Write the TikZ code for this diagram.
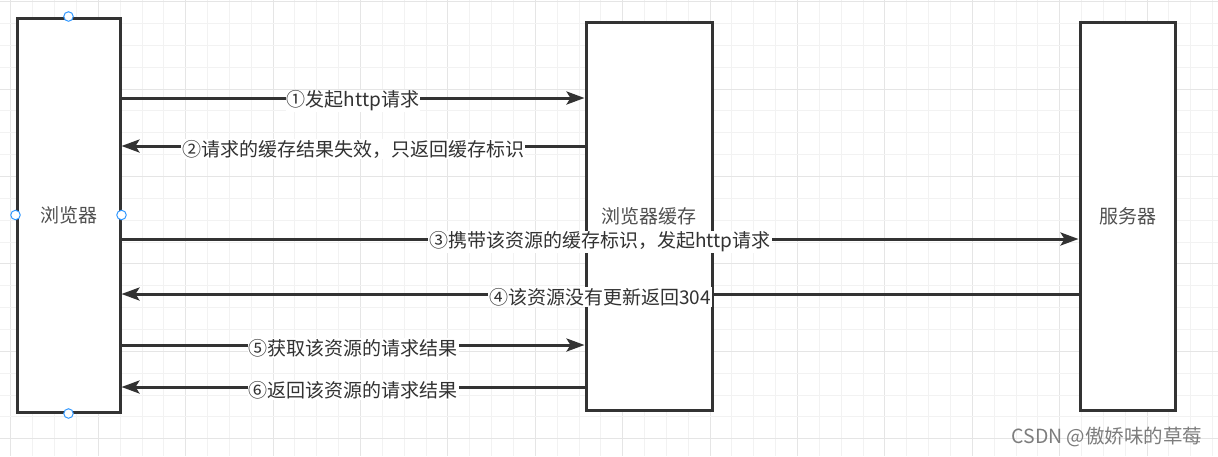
\documentclass[tikz,border=0pt]{standalone}
\usepackage{fontspec}
\setmainfont{Noto Sans CJK SC}
\usetikzlibrary{arrows.meta}
\definecolor{gridminor}{RGB}{242,242,242}
\definecolor{gridmajor}{RGB}{229,229,229}
\definecolor{edgecol}{RGB}{51,51,51}
\definecolor{handlecol}{RGB}{51,153,255}
\definecolor{boxtext}{RGB}{80,80,80}
\definecolor{arrtext}{RGB}{50,50,50}
\definecolor{markcol}{RGB}{125,125,125}

\begin{document}
\begin{tikzpicture}[x=1pt,y=-1pt,
  lane/.style={draw=edgecol, line width=3pt, fill=white, text=boxtext,
    font=\fontsize{19}{22}\selectfont, inner sep=0pt},
  msg/.style={draw=edgecol, line width=3pt,
    -{Stealth[length=18pt,width=13pt,inset=4pt]}},
  lbl/.style={midway, fill=white, inner sep=1pt, text=arrtext, yshift=-3pt,
    font=\fontsize{19}{22}\selectfont},
  selhandle/.style={circle, draw=handlecol, fill=white, line width=1pt,
    minimum size=9.5pt, inner sep=0pt}]

\useasboundingbox (0,0) rectangle (1218,456);
\fill[white] (0,0) rectangle (1218,456);

% background grid: minor lines every 21.85, stronger every fourth
\foreach \k in {0,...,55}{
  \pgfmathsetmacro{\gx}{10.9+21.85*\k}
  \pgfmathtruncatemacro{\gm}{mod(\k,4)}
  \ifnum\gm=0
    \draw[gridmajor, line width=1pt] (\gx,0) -- (\gx,456);
  \else
    \draw[gridminor, line width=1pt] (\gx,0) -- (\gx,456);
  \fi
}
\foreach \k in {0,...,20}{
  \pgfmathsetmacro{\gy}{1.7+21.85*\k}
  \pgfmathtruncatemacro{\gm}{mod(\k,4)}
  \ifnum\gm=0
    \draw[gridmajor, line width=1pt] (0,\gy) -- (1218,\gy);
  \else
    \draw[gridminor, line width=1pt] (0,\gy) -- (1218,\gy);
  \fi
}

% participants
\node[lane, minimum width=103pt, minimum height=394pt] (browser) at (68.5,215) {浏览器};
\node[lane, minimum width=126pt, minimum height=388pt] (cache) at (649,216) {浏览器缓存};
\node[lane, minimum width=95pt, minimum height=388pt] (server) at (1127.5,216) {服务器};

% messages
\draw[msg] (browser.east |- 0,98) -- node[lbl] {①发起http请求} (cache.west |- 0,98);
\draw[msg] (cache.west |- 0,146) -- node[lbl] {②请求的缓存结果失效，只返回缓存标识} (browser.east |- 0,146);
\draw[msg] (browser.east |- 0,239) -- node[lbl] {③携带该资源的缓存标识，发起http请求} (server.west |- 0,239);
\draw[msg] (server.west |- 0,294) -- node[lbl] {④该资源没有更新返回304} (browser.east |- 0,294);
\draw[msg] (browser.east |- 0,345) -- node[lbl] {⑤获取该资源的请求结果} (cache.west |- 0,345);
\draw[msg] (cache.west |- 0,387) -- node[lbl] {⑥返回该资源的请求结果} (browser.east |- 0,387);

% selection handles on the browser box
\node[selhandle] (hn) at (browser.north) {};
\node[selhandle] (hs) at (browser.south) {};
\node[selhandle] (hw) at (browser.west) {};
\node[selhandle] (he) at (browser.east) {};

% watermark
\node[text=markcol, font=\fontsize{19.5}{22}\selectfont] (wm) at (1107,437) {CSDN @傲娇味的草莓};
\end{tikzpicture}
\end{document}
